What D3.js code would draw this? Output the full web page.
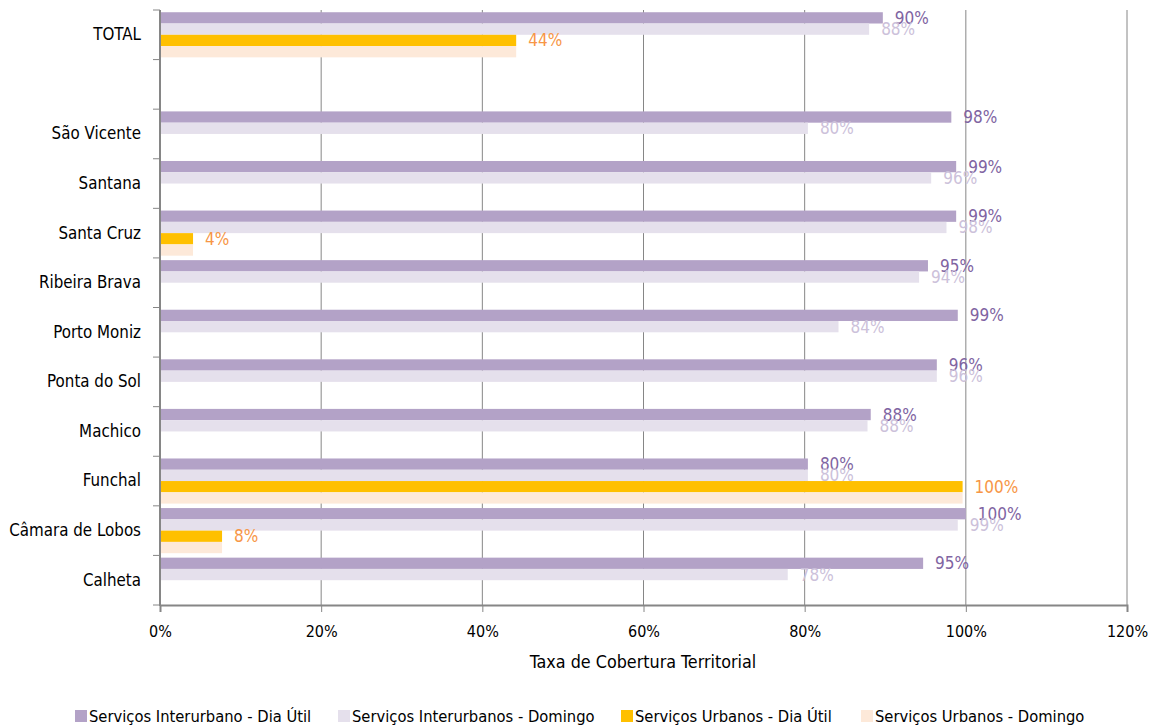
<!DOCTYPE html>
<html>
<head>
  <meta charset="utf-8">
  <title>Taxa de Cobertura Territorial</title>
  <style>
    body { margin: 0; background: #fff; }
    svg text { font-family: "DejaVu Sans Condensed", "Liberation Sans Narrow", "Liberation Sans", sans-serif; font-stretch: condensed; }
  </style>
</head>
<body>
  <div id="chart-container"></div>

  <script src="https://d3js.org/d3.v7.min.js"></script>
  <script>
// Data
var categories = ["TOTAL", " ", "São Vicente", "Santana", "Santa Cruz", "Ribeira Brava",
  "Porto Moniz", "Ponta do Sol", "Machico", "Funchal", "Câmara de Lobos", "Calheta"];
var seriesNames = ["Serviços Interurbano - Dia Útil", "Serviços Interurbanos - Domingo",
  "Serviços Urbanos - Dia Útil", "Serviços Urbanos - Domingo"];
var interDiaUtil = [89.7, null, 98.2, 98.8, 98.8, 95.3, 99.0, 96.4, 88.2, 80.4, 100, 94.7];
var interDomingo = [88.0, null, 80.4, 95.7, 97.6, 94.2, 84.2, 96.4, 87.8, 80.4, 99.0, 77.9];
var urbDiaUtil   = [44.2, null, null, null, 4.1, null, null, null, null, 99.6, 7.7, null];
var urbDomingo   = [44.2, null, null, null, 4.1, null, null, null, null, 99.6, 7.7, null];
var xTicks = [0, 20, 40, 60, 80, 100, 120];

var colors = ["#b3a2c7", "#e5e0ec", "#ffc000", "#fde9d9"];
var labelColors = ["#8064a2", "#ccc1da", "#f79646", null];
var seriesValues = [interDiaUtil, interDomingo, urbDiaUtil, urbDomingo];

var svg = d3.select("#chart-container")
  .append("svg")
  .attr("width", 1158)
  .attr("height", 726);

// Scales
var xScale = d3.scaleLinear().domain([0, 120]).range([160, 1127]);
var yScale = d3.scaleBand().domain(categories).range([10, 605])
  .paddingInner(0.09).paddingOuter(0.045);
var ySeries = d3.scaleBand().domain(d3.range(4)).range([0, yScale.bandwidth()]);

// Gridlines
svg.append("g")
  .selectAll("line")
  .data(xTicks.slice(1))
  .enter()
  .append("line")
  .attr("x1", function(d) { return xScale(d); })
  .attr("x2", function(d) { return xScale(d); })
  .attr("y1", 10)
  .attr("y2", 605)
  .attr("stroke", "#868686")
  .attr("stroke-width", 1);

// Bars
var rows = [];
categories.forEach(function(c, i) {
  seriesValues.forEach(function(vals, s) {
    if (vals[i] != null) rows.push({ cat: c, s: s, v: vals[i] });
  });
});

svg.append("g")
  .selectAll("rect")
  .data(rows)
  .enter()
  .append("rect")
  .attr("x", xScale(0))
  .attr("y", function(d) { return yScale(d.cat) + ySeries(d.s); })
  .attr("width", function(d) { return xScale(d.v) - xScale(0); })
  .attr("height", ySeries.bandwidth())
  .attr("fill", function(d) { return colors[d.s]; });

// Value labels (last series has none)
svg.append("g")
  .selectAll("text")
  .data(rows.filter(function(d) { return d.s < 3; }))
  .enter()
  .append("text")
  .attr("x", function(d) { return xScale(d.v) + 12; })
  .attr("y", function(d) { return yScale(d.cat) + ySeries(d.s) + ySeries.bandwidth() / 2 + 1; })
  .attr("dominant-baseline", "middle")
  .attr("font-size", 17)
  .attr("fill", function(d) { return labelColors[d.s]; })
  .text(function(d) { return Math.round(d.v) + "%"; });

// Left axis
var yAxis = d3.axisLeft(yScale).tickSize(0).tickPadding(19);
var gy = svg.append("g").attr("transform", "translate(160,0)").call(yAxis);
gy.select(".domain").remove();
gy.selectAll("text").attr("font-size", 16.8).attr("fill", "#000");

// Category boundary ticks
var bounds = categories.map(function(c) { return yScale(c) - yScale.step() * yScale.paddingInner() / 2; });
bounds.push(605);
svg.append("g")
  .selectAll("line")
  .data(bounds)
  .enter()
  .append("line")
  .attr("x1", 153)
  .attr("x2", 160)
  .attr("y1", function(d) { return d; })
  .attr("y2", function(d) { return d; })
  .attr("stroke", "#868686");

svg.append("line")
  .attr("x1", 160).attr("x2", 160)
  .attr("y1", 10).attr("y2", 606)
  .attr("stroke", "#868686").attr("stroke-width", 2);

// Bottom axis
var xAxis = d3.axisBottom(xScale)
  .tickValues(xTicks)
  .tickSize(7)
  .tickPadding(14)
  .tickFormat(function(d) { return d + "%"; });
var gx = svg.append("g").attr("transform", "translate(0,605)").call(xAxis);
gx.select(".domain").attr("stroke", "#868686").attr("stroke-width", 2);
gx.selectAll(".tick line").attr("stroke", "#868686");
gx.selectAll("text").attr("font-size", 16).attr("fill", "#000");
gx.attr("font-family", null);
gy.attr("font-family", null);

// Axis title
svg.append("text")
  .attr("x", 643)
  .attr("y", 668)
  .attr("text-anchor", "middle")
  .attr("font-size", 17.8)
  .text("Taxa de Cobertura Territorial");

// Legend
var legendX = [75, 338, 621, 861];
var legend = svg.append("g")
  .selectAll("g")
  .data(seriesNames)
  .enter()
  .append("g")
  .attr("transform", function(d, i) { return "translate(" + legendX[i] + ",710)"; });
legend.append("rect")
  .attr("width", 12).attr("height", 12)
  .attr("fill", function(d, i) { return colors[i]; });
legend.append("text")
  .attr("x", 14)
  .attr("y", 12)
  .attr("font-size", 16.4)
  .text(function(d) { return d; });
  </script>
</body>
</html>
